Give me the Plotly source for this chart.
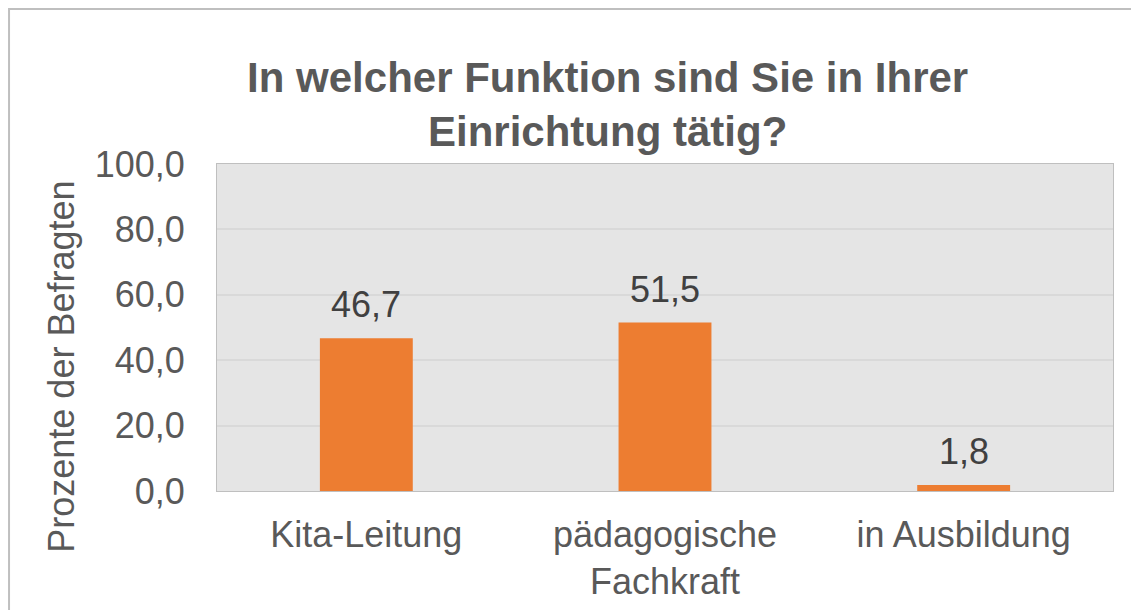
import plotly.graph_objects as go

categories = ["Kita-Leitung", "pädagogische<br>Fachkraft", "in Ausbildung"]
values = [46.7, 51.5, 1.8]
y_ticks = [0, 20, 40, 60, 80, 100]

TITLE = "In welcher Funktion sind Sie in Ihrer<br>Einrichtung tätig?"
Y_TITLE = "Prozente der Befragten"
ORANGE = "#ED7D31"
GREY_TEXT = "#595959"
FONT = "Liberation Sans, Arial, sans-serif"

fig = go.Figure(
    go.Bar(x=categories, y=values, marker=dict(color=ORANGE, line=dict(width=0)))
)

# value labels above bars
for cat, val in zip(categories, values):
    fig.add_annotation(
        x=cat, y=val, text=f"{val:.1f}".replace(".", ","),
        showarrow=False, yanchor="bottom", yshift=11,
        font=dict(size=36, color="#404040", family=FONT),
    )

# y axis title, sits a bit lower than axis centre like the original
fig.add_annotation(
    xref="paper", yref="paper", x=-0.173, y=0.38, text=Y_TITLE,
    textangle=-90, showarrow=False, xanchor="center", yanchor="middle",
    font=dict(size=36, color=GREY_TEXT, family=FONT),
)

# outer chart frame (cut off on right/bottom in the source image)
fig.add_shape(
    type="rect", xref="paper", yref="paper",
    x0=-0.2321, x1=1.05, y0=-0.45, y1=1.474,
    line=dict(color="#BFBFBF", width=2), fillcolor="rgba(0,0,0,0)",
)

# page body has an 8px margin, so the figure is 8px smaller each way
fig.update_layout(
    width=1131, height=602,
    margin=dict(l=209, r=26, t=156, b=119),
    paper_bgcolor="white", plot_bgcolor="#E5E5E5",
    separators=",.",
    bargap=0.689,
    showlegend=False,
    font=dict(family=FONT, size=36, color=GREY_TEXT),
    title=dict(
        text=TITLE, x=0.436, xref="paper", xanchor="center",
        y=0.861, yref="container", yanchor="top",
        font=dict(size=42, color=GREY_TEXT, family=FONT, weight="bold"),
    ),
)
fig.update_yaxes(
    range=[0, 100], tickvals=y_ticks, tickformat=".1f", automargin=False,
    gridcolor="#D9D9D9", gridwidth=2, zeroline=False,
    showline=True, linecolor="#BFBFBF", linewidth=1, mirror=True,
    ticklabelstandoff=24, tickfont=dict(size=36, color=GREY_TEXT),
)
fig.update_xaxes(
    automargin=False,
    showline=True, linecolor="#BFBFBF", linewidth=1, mirror=True,
    ticklabelstandoff=12, tickfont=dict(size=36, color=GREY_TEXT),
)

fig.write_html("out.html")
